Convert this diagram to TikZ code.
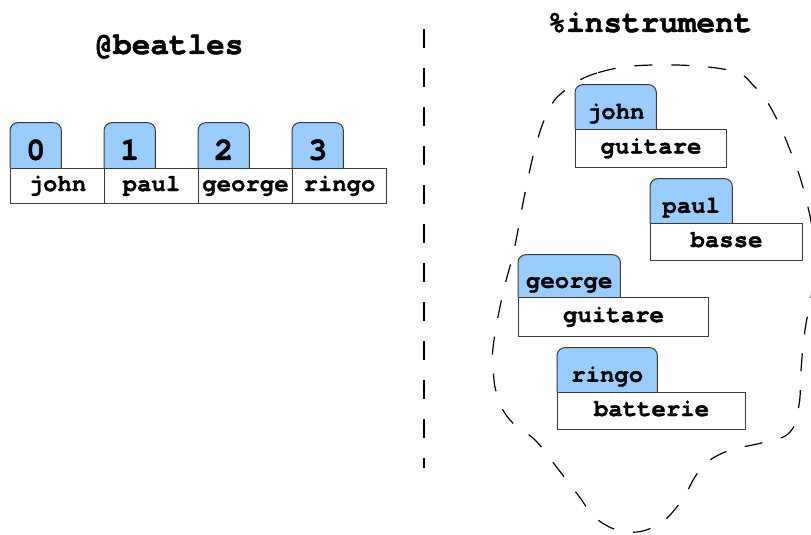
\documentclass[tikz,border=0pt]{standalone}
\usepackage{fontspec}
\setmonofont[BoldFeatures={FakeBold=1.4}]{TeX Gyre Cursor}
\usetikzlibrary{backgrounds}
\definecolor{tabblue}{HTML}{99CCFF}
\definecolor{edge}{HTML}{3A3A3A}
\newcommand\codefont[1]{\ttfamily\bfseries\fontsize{#1}{#1}\selectfont}
\tikzset{
  cell/.style={draw=edge, fill=white, line width=1pt, inner sep=0pt, anchor=north west,
    font=\codefont{24}, text height=15pt, text depth=5pt},
  keytab/.style={inner sep=0pt, anchor=south west, minimum height=44pt,
    font=\codefont{24}, text height=24pt, text depth=0pt},
  idxtab/.style={inner sep=0pt, anchor=south west, minimum width=51pt, minimum height=45pt,
    font=\codefont{32}, text height=29pt, text depth=0pt},
  tabshape/.style={fill=tabblue, draw=edge, line width=1pt, rounded corners=8pt},
  heading/.style={anchor=base, font=\codefont{31}},
  divider/.style={line width=1.3pt, dash pattern=on 19pt off 20pt},
  blob/.style={line width=1.2pt, dash pattern=on 18pt off 19pt},
}
\begin{document}
\begin{tikzpicture}[x=1pt, y=-1pt]
  \useasboundingbox (0,0) rectangle (811,535);

  % headings
  \node[heading] (arr) at (169,54) {@beatles};
  \node[heading] (hash) at (650,32) {\%instrument};

  % separator
  \coordinate (septop) at (424,29);
  \coordinate (sepbot) at (424,468);
  \draw[divider] (septop) -- (sepbot);

  % array @beatles
  \node[cell, minimum width=94pt, minimum height=35pt] (b0) at (10,168) {john};
  \node[cell, minimum width=94pt, minimum height=35pt] (b1) at (104,168) {paul};
  \node[cell, minimum width=94pt, minimum height=35pt] (b2) at (198,168) {george};
  \node[cell, minimum width=94pt, minimum height=35pt] (b3) at (292,168) {ringo};
  \node[idxtab] (t0) at (b0.north west) {0};
  \node[idxtab] (t1) at (b1.north west) {1};
  \node[idxtab] (t2) at (b2.north west) {2};
  \node[idxtab] (t3) at (b3.north west) {3};

  % hash %instrument
  \node[cell, minimum width=151pt, minimum height=38pt] (vj) at (575,129) {guitare};
  \node[keytab, minimum width=81pt] (kj) at (vj.north west) {john};
  \node[cell, minimum width=152pt, minimum height=37pt] (vp) at (650,223) {basse};
  \node[keytab, minimum width=82pt] (kp) at (vp.north west) {paul};
  \node[cell, minimum width=190pt, minimum height=39pt] (vg) at (518,297) {guitare};
  \node[keytab, minimum width=102pt, minimum height=42pt] (kg) at (vg.north west) {george};
  \node[cell, minimum width=188pt, minimum height=37pt] (vr) at (557,392) {batterie};
  \node[keytab, minimum width=100pt] (kr) at (vr.north west) {ringo};

  % tab outlines behind the labels
  \begin{scope}[on background layer]
    \foreach \t in {t0,t1,t2,t3,kj,kp,kg,kr}
      \filldraw[tabshape] (\t.south west) -- (\t.north west) -- (\t.north east) -- (\t.south east);
  \end{scope}

  % outline of the hash
  \draw[blob] plot[smooth cycle, tension=0.7] coordinates {
    (653,65) (597,73) (563,92) (548,112) (536,145) (525,193) (514,250)
    (503,293) (494,340) (493,365) (497,395) (510,420) (535,440) (555,465)
    (578,495) (598,520) (628,532) (657,525) (680,503) (700,470) (725,452)
    (765,442) (790,432) (799,405) (801,370) (805,330) (812,290) (814,245)
    (805,195) (790,150) (772,110) (755,87) (728,70)};
\end{tikzpicture}
\end{document}
